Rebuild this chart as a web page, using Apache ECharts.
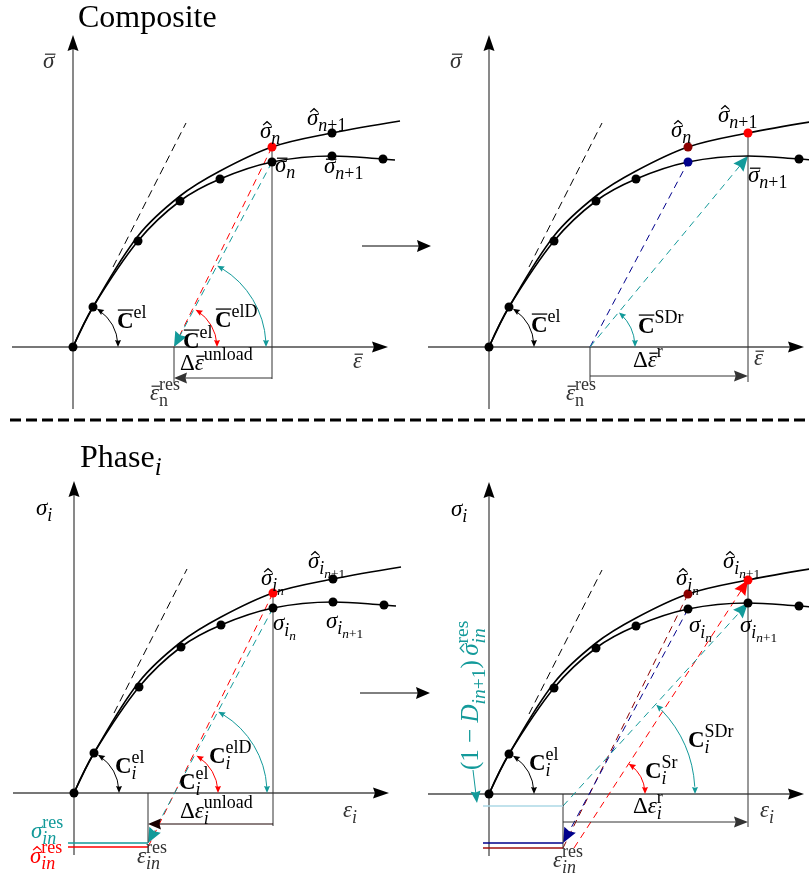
<!DOCTYPE html>
<html>
<head>
<meta charset="utf-8">
<title>Composite / Phase stress-strain schematic</title>
<script src="https://cdn.jsdelivr.net/npm/echarts@6.0.0/dist/echarts.min.js"></script>
<style>
html,body{margin:0;padding:0;background:#ffffff;}
#chart{width:809px;height:874px;}
</style>
</head>
<body>
<div id="chart"></div>
<script>
// ---------------- data (schematic values, drawing units) ----------------
// upper curve (hat sigma) and lower curve (bar sigma / sigma_i)
const strainHat = [0, 20, 65, 107, 147, 199, 259, 327];
const stressHat = [0, 40, 111, 151, 176, 200, 214, 226];
const strainBar = [0, 20, 65, 107, 147, 199, 259, 310, 322];
const stressBar = [0, 40, 106, 146, 168, 185, 191, 188, 187];
// dashed elastic guide line
const elasticGuideStrain = [40, 113];
const elasticGuideStress = [80, 224];
// residual states
const epsResComposite = 101;
const epsResPhase = 74;
const sigResPhase = -50;      // sigma_in^res
const sigHatResPhase = -54;   // hat sigma_in^res
const sigResBlue = -49;
const sigResDamaged = -12;    // (1-D) hat sigma^res
const redReloadStart = 85;
const N = 5, N1 = 6;          // indices of steps n and n+1

// ---------------- styling ----------------
const INK = '#000000', GREY = '#333333', RED = '#ff0000', DARKRED = '#8b0000',
      NAVY = '#00008b', TEAL = '#139a9a', LIGHT = '#add8e6', AXIS = '#4a4a4a';
const MATHFONT = '"Liberation Serif", "DejaVu Serif", serif';
const FS = 23;
const X_MIN = -61, X_MAX = 330, Y_MIN = -62, Y_MAX = 312;
const X_TIP = 315, Y_TIP = 312;
const panelOrigins = [[73, 347], [489, 347], [74, 793], [489, 794]];

const hatPts = strainHat.map((x, i) => [x, stressHat[i]]);
const barPts = strainBar.map((x, i) => [x, stressBar[i]]);
const guide = [[elasticGuideStrain[0], elasticGuideStress[0]], [elasticGuideStrain[1], elasticGuideStress[1]]];

const DASH = [7, 5];
const seg = (a, b, o) => Object.assign({ a, b, c: GREY, w: 1 }, o || {});
const axisSegs = () => [
  seg([X_MIN, 0], [X_TIP, 0], { c: AXIS, w: 1.3, arrow: 16, aw: 5.5, hc: INK }),
  seg([0, Y_MIN], [0, Y_TIP], { c: AXIS, w: 1.3, arrow: 16, aw: 5.5, hc: INK })
];

const panelSegs = [
  [ // composite, unloading
    ...axisSegs(),
    seg(guide[0], guide[1], { c: INK, dash: [8, 5] }),
    seg(hatPts[N], [epsResComposite, 0], { c: RED, dash: DASH }),
    seg(barPts[N], [epsResComposite, 0], { c: TEAL, dash: DASH, arrow: 15, aw: 6.5 }),
    seg(hatPts[N], [strainHat[N], -32]),
    seg([epsResComposite, 0], [epsResComposite, -36]),
    seg([strainHat[N], -31], [epsResComposite, -31], { arrow: 13, aw: 5.5 }),
    seg([289, 101], [358, 101], { arrow: 14, aw: 6, c: INK }),
    seg([-63, -73], [736, -73], { c: '#000', w: 3, dash: [11, 5] })
  ],
  [ // composite, reloading
    ...axisSegs(),
    seg(guide[0], guide[1], { c: INK, dash: [8, 5] }),
    seg([epsResComposite, 0], barPts[N], { c: NAVY, dash: DASH }),
    seg([epsResComposite, 0], barPts[N1], { c: TEAL, dash: DASH, arrow: 15, aw: 6.5 }),
    seg(hatPts[N1], [strainHat[N1], -35]),
    seg([epsResComposite, 0], [epsResComposite, -35]),
    seg([epsResComposite, -29], [strainHat[N1], -29], { arrow: 14, aw: 5.5 })
  ],
  [ // phase, unloading
    ...axisSegs(),
    seg(guide[0], guide[1], { c: INK, dash: [8, 5] }),
    seg(hatPts[N], [epsResPhase, sigHatResPhase], { c: RED, dash: DASH }),
    seg(barPts[N], [epsResPhase, sigResPhase], { c: TEAL, dash: DASH, arrow: 15, aw: 6.5 }),
    seg(hatPts[N], [strainHat[N], -33]),
    seg([epsResPhase, 0], [epsResPhase, sigResPhase]),
    seg([strainHat[N], -31], [epsResPhase, -31], { arrow: 13, aw: 5.5, c: '#1a0000' }),
    seg([-6, sigResPhase], [epsResPhase, sigResPhase], { c: TEAL, w: 1.3 }),
    seg([-6, sigHatResPhase], [epsResPhase, sigHatResPhase], { c: RED, w: 1.3 }),
    seg([286, 100], [356, 100], { arrow: 14, aw: 6, c: INK })
  ],
  [ // phase, reloading
    ...axisSegs(),
    seg(guide[0], guide[1], { c: INK, dash: [8, 5] }),
    seg(hatPts[N], [epsResPhase, sigHatResPhase], { c: DARKRED, dash: DASH }),
    seg(barPts[N], [epsResPhase, sigResBlue], { c: NAVY, dash: DASH, arrow: 15, aw: 6.5 }),
    seg([redReloadStart, sigHatResPhase], hatPts[N1], { c: RED, dash: DASH, arrow: 15, aw: 6.5 }),
    seg([epsResPhase, sigResDamaged], barPts[N1], { c: TEAL, dash: DASH, arrow: 15, aw: 6.5 }),
    seg(hatPts[N1], [strainHat[N1], -33]),
    seg([epsResPhase, 0], [epsResPhase, sigHatResPhase]),
    seg([epsResPhase, -28], [strainHat[N1], -28], { arrow: 14, aw: 5.5 }),
    seg([-6, sigResDamaged], [epsResPhase, sigResDamaged], { c: LIGHT, w: 1.6 }),
    seg([-6, sigResBlue], [epsResPhase, sigResBlue], { c: NAVY, w: 1.3 }),
    seg([-6, sigHatResPhase], [epsResPhase, sigHatResPhase], { c: '#a01010', w: 1.3 }),
    seg([-16, 24], [-12, -9], { c: TEAL, arrow: 12, aw: 5 })
  ]
];

// angle arcs: centre (strain, stress), radius, opening angle in degrees
const panelArcs = [
  [{ c: [0, 0], r: 45, th: 58, col: INK }, { c: [epsResComposite, 0], r: 43, th: 60, col: RED }, { c: [epsResComposite, 0], r: 92, th: 62, col: TEAL }],
  [{ c: [0, 0], r: 45, th: 58, col: INK }, { c: [epsResComposite, 0], r: 45, th: 50, col: TEAL }],
  [{ c: [0, 0], r: 45, th: 58, col: INK }, { c: [101, 0], r: 43, th: 60, col: RED }, { c: [101, 0], r: 92, th: 62, col: TEAL }],
  [{ c: [0, 0], r: 45, th: 58, col: INK }, { c: [120, 0], r: 36, th: 57, col: RED }, { c: [84, 0], r: 122, th: 47, col: TEAL }]
];

const markerSets = [
  { bar: [[0, INK], [1, INK], [2, INK], [3, INK], [4, INK], [N, INK], [N1, INK], [7, INK]], hat: [[N, RED], [N1, INK]] },
  { bar: [[0, INK], [1, INK], [2, INK], [3, INK], [4, INK], [N, NAVY], [7, INK]], hat: [[N, DARKRED], [N1, RED]] },
  { bar: [[0, INK], [1, INK], [2, INK], [3, INK], [4, INK], [N, INK], [N1, INK], [7, INK]], hat: [[N, RED], [N1, INK]] },
  { bar: [[0, INK], [1, INK], [2, INK], [3, INK], [4, INK], [N, INK], [N1, INK], [7, INK]], hat: [[N, DARKRED], [N1, RED]] }
];

// ---------------- text tokens ----------------
const tk = k => (t, o) => Object.assign({ k, t }, o || {});
const tv = tk('v'), tr = tk('r'), tb = tk('b'), tp = tk('p'), ts = tk('s'), tsr = tk('sr'), tss = tk('ss'), tssr = tk('ssr');
const BL = { bar: 0.6 }, BC = { bar: 0.78 }, HAT = { hat: 0.56 }, ST = { stack: 1 };

const sigHatIn = () => [tv('σ', HAT), ts('i'), tss('n')];
const sigHatIn1 = () => [tv('σ', HAT), ts('i'), tss('n'), tssr('+1')];
const sigIn = () => [tv('σ'), ts('i'), tss('n')];
const sigIn1 = () => [tv('σ'), ts('i'), tss('n'), tssr('+1')];

const panelLabels = [
  [
    { at: [-30, 279], tk: [tv('σ', BL)], c: GREY },
    { at: [187, 209], tk: [tv('σ', HAT), ts('n')] },
    { at: [234, 222], tk: [tv('σ', HAT), ts('n'), tsr('+1')] },
    { at: [202, 175], tk: [tv('σ', BL), ts('n')] },
    { at: [251, 174], tk: [tv('σ', BL), ts('n'), tsr('+1')] },
    { at: [44, 19], tk: [tb('C', BC), tp('el')] },
    { at: [110, -1], tk: [tb('C', BC), tp('el')] },
    { at: [142, 20], tk: [tb('C', BC), tp('elD')] },
    { at: [107, -23], tk: [tr('Δ'), tv('ε', BL), tp('unload')] },
    { at: [280, -21], tk: [tv('ε', BL)], c: GREY },
    { at: [77, -53], tk: [tv('ε', BL), tp('res'), tsr('n', ST)], c: GREY },
    { at: [5, 320], tk: [tr('Composite')], size: 32 }
  ],
  [
    { at: [-39, 279], tk: [tv('σ', BL)], c: GREY },
    { at: [182, 210], tk: [tv('σ', HAT), ts('n')] },
    { at: [229, 225], tk: [tv('σ', HAT), ts('n'), tsr('+1')] },
    { at: [259, 165], tk: [tv('σ', BL), ts('n'), tsr('+1')] },
    { at: [42, 15], tk: [tb('C', BC), tp('el')] },
    { at: [149, 14], tk: [tb('C', BC), tp('SDr')] },
    { at: [144, -20], tk: [tr('Δ'), tv('ε', BL), tp('r')] },
    { at: [265, -18], tk: [tv('ε', BL)], c: GREY },
    { at: [77, -53], tk: [tv('ε', BL), tp('res'), tsr('n', ST)], c: GREY }
  ],
  [
    { at: [-38, 278], tk: [tv('σ'), ts('i')] },
    { at: [187, 208], tk: sigHatIn() },
    { at: [234, 225], tk: sigHatIn1() },
    { at: [199, 163], tk: sigIn() },
    { at: [252, 165], tk: sigIn1() },
    { at: [41, 20], tk: [tb('C'), tp('el'), ts('i', ST)] },
    { at: [105, 4], tk: [tb('C'), tp('el'), ts('i', ST)] },
    { at: [135, 30], tk: [tb('C'), tp('elD'), ts('i', ST)] },
    { at: [106, -25], tk: [tr('Δ'), tv('ε'), tp('unload'), ts('i', ST)] },
    { at: [269, -24], tk: [tv('ε'), ts('i')], c: GREY },
    { at: [63, -70], tk: [tv('ε'), tp('res'), ts('in', ST)], c: GREY },
    { at: [-43, -45], tk: [tv('σ'), tp('res'), ts('in', ST)], c: TEAL },
    { at: [-44, -70], tk: [tv('σ', HAT), tp('res'), ts('in', ST)], c: RED },
    { at: [6, 326], tk: [tr('Phase'), ts('i')], size: 32 }
  ],
  [
    { at: [-38, 278], tk: [tv('σ'), ts('i')] },
    { at: [187, 209], tk: sigHatIn() },
    { at: [234, 226], tk: sigHatIn1() },
    { at: [200, 162], tk: sigIn() },
    { at: [251, 162], tk: sigIn1() },
    { at: [40, 24], tk: [tb('C'), tp('el'), ts('i', ST)] },
    { at: [156, 16], tk: [tb('C'), tp('Sr'), ts('i', ST)] },
    { at: [199, 47], tk: [tb('C'), tp('SDr'), ts('i', ST)] },
    { at: [144, -19], tk: [tr('Δ'), tv('ε'), tp('r'), ts('i', ST)] },
    { at: [271, -23], tk: [tv('ε'), ts('i')], c: GREY },
    { at: [64, -73], tk: [tv('ε'), tp('res'), ts('in', ST)], c: GREY },
    { at: [-11, 24], rot: Math.PI / 2, c: TEAL, size: 25,
      tk: [tr('('), tr('1'), tr(' − '), tv('D'), ts('in'), tsr('+1'), tr(')'), tv('σ', { hat: 0.56, gap: 0.18 }), tp('res'), ts('in', ST)] }
  ]
];

// ---------------- rendering helpers ----------------
const mctx = document.createElement('canvas').getContext('2d');
const KIND = {
  v: { s: 1, dy: 0, it: 1 }, r: { s: 1, dy: 0 }, b: { s: 1, dy: 0, bd: 1 },
  p: { s: 0.78, dy: -0.42 }, s: { s: 0.78, dy: 0.26, it: 1 }, sr: { s: 0.78, dy: 0.26 },
  ss: { s: 0.58, dy: 0.42, it: 1 }, ssr: { s: 0.58, dy: 0.42 }
};

function buildText(tokens, size, color, fam) {
  const out = [];
  let start = 0, end = 0;
  tokens.forEach(t => {
    const k = KIND[t.k];
    const sz = size * k.s;
    const font = (k.it ? 'italic ' : '') + (k.bd ? 'bold ' : '') + sz.toFixed(2) + 'px ' + fam;
    mctx.font = font;
    mctx.textBaseline = 'middle';
    const w = mctx.measureText(t.t).width;
    const off = mctx.measureText('H').actualBoundingBoxDescent;
    let x;
    if (t.stack) { x = start; end = Math.max(end, x + w); }
    else { x = end + (t.gap || 0) * size; start = x; end = x + w; }
    const yb = k.dy * size;
    out.push({
      type: 'text', x: x, y: yb - off,
      style: { text: t.t, font: font, fill: color, align: 'left', verticalAlign: 'middle', textAlign: 'left', textVerticalAlign: 'middle' }
    });
    const lw = Math.max(1, sz * 0.055);
    if (t.bar) {
      const by = yb - t.bar * sz;
      const sh = k.it ? 0.12 * w : 0;
      out.push({ type: 'line', shape: { x1: x + 0.05 * w + sh, y1: by, x2: x + w * 0.98 + sh, y2: by }, style: { stroke: color, lineWidth: lw } });
    }
    if (t.hat) {
      const hy = yb - t.hat * sz;
      const cx = x + w * (k.it ? 0.62 : 0.5);
      const hw = sz * 0.17;
      out.push({ type: 'polyline', shape: { points: [[cx - hw, hy], [cx, hy - sz * 0.15], [cx + hw, hy]] }, style: { stroke: color, lineWidth: lw, fill: null } });
    }
  });
  return out;
}

function head(tip, dir, L, W, color) {
  const dx = dir[0], dy = dir[1];
  const nx = -dy, ny = dx;
  const bx = tip[0] - dx * L, by = tip[1] - dy * L;
  const mx = tip[0] - dx * L * 0.88, my = tip[1] - dy * L * 0.88;
  return { type: 'polygon', shape: { points: [tip, [bx + nx * W, by + ny * W], [mx, my], [bx - nx * W, by - ny * W]] }, style: { fill: color, stroke: null } };
}

function segRender(list) {
  return function (params, api) {
    const s = list[params.dataIndex];
    const p1 = api.coord([api.value(0), api.value(1)]);
    const p2 = api.coord([api.value(2), api.value(3)]);
    const dx = p2[0] - p1[0], dy = p2[1] - p1[1];
    const len = Math.sqrt(dx * dx + dy * dy) || 1;
    const d = [dx / len, dy / len];
    let e = p2;
    const children = [];
    if (s.arrow) e = [p2[0] - d[0] * s.arrow * 0.8, p2[1] - d[1] * s.arrow * 0.8];
    children.push({ type: 'line', shape: { x1: p1[0], y1: p1[1], x2: e[0], y2: e[1] },
      style: { stroke: s.c, lineWidth: s.w, lineDash: s.dash || null, fill: null } });
    if (s.arrow) children.push(head(p2, d, s.arrow, s.aw || 5, s.hc || s.c));
    return { type: 'group', children: children };
  };
}

function arcRender(list) {
  return function (params, api) {
    const s = list[params.dataIndex];
    const c = api.coord([api.value(0), api.value(1)]);
    const r = api.size([api.value(2), 0])[0];
    const th = api.value(3) * Math.PI / 180;
    const p0 = [c[0] + r, c[1]];
    const p1 = [c[0] + r * Math.cos(th), c[1] - r * Math.sin(th)];
    return { type: 'group', children: [
      { type: 'arc', shape: { cx: c[0], cy: c[1], r: r, startAngle: -th + 0.06, endAngle: -0.06, clockwise: true },
        style: { stroke: s.col, lineWidth: 1, fill: null } },
      head(p0, [0, 1], 7, 3, s.col),
      head(p1, [-Math.sin(th), -Math.cos(th)], 7, 3, s.col)
    ] };
  };
}

function labelRender(list) {
  return function (params, api) {
    const L = list[params.dataIndex];
    const p = api.coord([api.value(0), api.value(1)]);
    return { type: 'group', x: p[0], y: p[1], rotation: L.rot || 0,
      children: buildText(L.tk, L.size || FS, L.c || INK, MATHFONT) };
  };
}

// ---------------- option ----------------
const grids = [], xAxes = [], yAxes = [], series = [];
const hidden = { axisLine: { show: false }, axisTick: { show: false }, axisLabel: { show: false }, splitLine: { show: false } };
panelOrigins.forEach((o, gi) => {
  grids.push({ left: o[0] + X_MIN, top: o[1] - Y_MAX, width: X_MAX - X_MIN, height: Y_MAX - Y_MIN, containLabel: false, outerBoundsMode: 'none' });
  xAxes.push(Object.assign({ type: 'value', gridIndex: gi, min: X_MIN, max: X_MAX }, hidden));
  yAxes.push(Object.assign({ type: 'value', gridIndex: gi, min: Y_MIN, max: Y_MAX }, hidden));
  const base = { xAxisIndex: gi, yAxisIndex: gi, silent: true, animation: false };
  series.push(Object.assign({ type: 'custom', name: 'seg' + gi, renderItem: segRender(panelSegs[gi]), clip: false, z: 2,
    encode: { x: [0, 2], y: [1, 3] },
    data: panelSegs[gi].map(s => [s.a[0], s.a[1], s.b[0], s.b[1]]) }, base));
  series.push(Object.assign({ type: 'line', name: 'hat' + gi, data: hatPts, smooth: 0.35, showSymbol: false, clip: false, z: 3,
    lineStyle: { color: '#000', width: 1.6 } }, base));
  series.push(Object.assign({ type: 'line', name: 'bar' + gi, data: barPts, smooth: 0.35, showSymbol: false, clip: false, z: 3,
    lineStyle: { color: '#000', width: 1.6 } }, base));
  series.push(Object.assign({ type: 'custom', name: 'arc' + gi, renderItem: arcRender(panelArcs[gi]), clip: false, z: 4,
    encode: { x: 0, y: 1 },
    data: panelArcs[gi].map(a => [a.c[0], a.c[1], a.r, a.th]) }, base));
  const ms = markerSets[gi];
  const mdata = ms.bar.map(m => ({ value: barPts[m[0]], itemStyle: { color: m[1] } }))
    .concat(ms.hat.map(m => ({ value: hatPts[m[0]], itemStyle: { color: m[1] } })));
  series.push(Object.assign({ type: 'scatter', name: 'pts' + gi, data: mdata, symbolSize: 9, z: 6, clip: false,
    itemStyle: { opacity: 1 } }, base));
  series.push(Object.assign({ type: 'custom', name: 'lab' + gi, renderItem: labelRender(panelLabels[gi]), clip: false, z: 7,
    encode: { x: 0, y: 1 },
    data: panelLabels[gi].map(l => l.at) }, base));
});

const chart = echarts.init(document.getElementById('chart'), null, { renderer: 'canvas' });
chart.setOption({
  animation: false,
  backgroundColor: '#ffffff',
  grid: grids, xAxis: xAxes, yAxis: yAxes, series: series
});
</script>
</body>
</html>
